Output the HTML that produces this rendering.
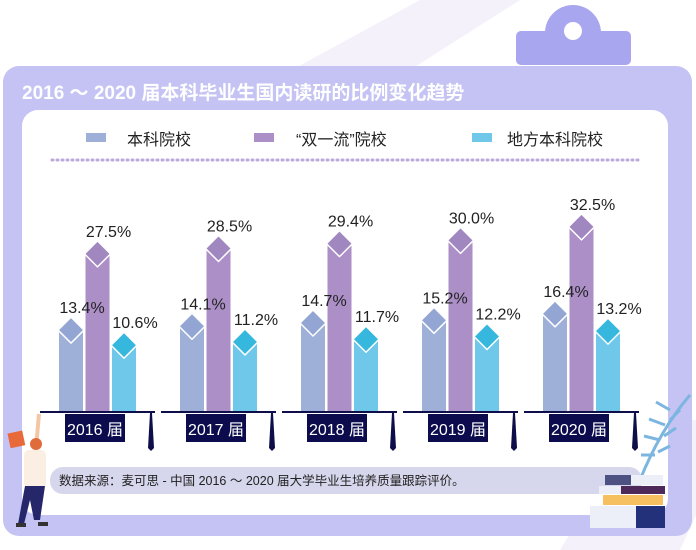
<!DOCTYPE html>
<html><head><meta charset="utf-8"><style>
body{margin:0;width:696px;height:550px;overflow:hidden;background:#fff;font-family:"Liberation Sans","Noto Sans CJK SC",sans-serif;}
#c{position:absolute;left:0;top:0}
</style></head><body>
<svg id="c" width="696" height="550" xmlns="http://www.w3.org/2000/svg">
<polygon points="200,120 420,0 520,0 300,140" fill="#f4f1fb"/>
<polygon points="740,420 680,550 560,550 640,420" fill="#f4f1fb"/>
<g>
<circle cx="573" cy="33" r="28" fill="#a8a6ee"/>
<rect x="516" y="31" width="115" height="34" rx="5" fill="#a8a6ee"/>
<circle cx="573" cy="31" r="9" fill="#fff"/>
</g>
<rect x="3" y="66" width="689" height="470" rx="16" fill="#c4c3f3"/>
<text x="22" y="99" font-size="19" font-weight="bold" fill="#fff">2016 ～ 2020 届本科毕业生国内读研的比例变化趋势</text>
<rect x="22" y="110" width="646" height="405" rx="16" fill="#fff"/>
<g>
<rect x="86" y="133" width="20" height="9" fill="#9fb0d8"/>
<text x="127" y="145" font-size="16" fill="#222">本科院校</text>
<rect x="254" y="133" width="20" height="9" fill="#ab8fc6"/>
<text x="296" y="145" font-size="16" fill="#222">“双一流”院校</text>
<rect x="472" y="133" width="20" height="9" fill="#6fc7ea"/>
<text x="507" y="145" font-size="16" fill="#222">地方本科院校</text>
</g>
<line x1="52" y1="160" x2="640" y2="160" stroke="#b9a9dc" stroke-width="3" stroke-dasharray="1 4" stroke-linecap="round"/>
<g id="bars"></g>
<g id="labels"></g>
<rect x="50" y="467" width="592" height="27" rx="13" fill="#d6d6ec"/>
<text x="59" y="485" font-size="12.5" fill="#222">数据来源：麦可思 - 中国 2016 ～ 2020 届大学毕业生培养质量跟踪评价。</text>
<g>
<rect x="9" y="432" width="15" height="15" fill="#e8693a" transform="rotate(-12 16 440)"/>
<line x1="39" y1="414" x2="36" y2="448" stroke="#f3c7a5" stroke-width="4"/>
<circle cx="36" cy="444" r="6" fill="#e06b3b"/>
<rect x="24" y="450" width="22" height="38" rx="5" fill="#fbeee3"/>
<polygon points="25,486 45,486 40,520 34,520 30,500 24,524 18,524" fill="#25276a"/>
<rect x="16" y="523" width="10" height="4" fill="#333"/><rect x="38" y="522" width="10" height="4" fill="#333"/>
</g>
<g stroke="#7cb6e0" stroke-width="3" fill="none">
<path d="M690 395 Q660 430 640 480"/><path d="M670 410 l-14 -8 M665 425 l-16 -6 M660 440 l-16 -4 M655 455 l-14 0 M670 420 l10 -10 M664 436 l12 -8 M658 452 l12 -6"/>
</g>
<g>
<rect x="605" y="475" width="58" height="10" fill="#eceef8"/><rect x="605" y="475" width="26" height="10" fill="#4d5282"/>
<rect x="599" y="486" width="66" height="8" fill="#4d2a5a"/><rect x="599" y="486" width="22" height="8" fill="#eceef8"/>
<rect x="603" y="495" width="60" height="10" fill="#f6c060"/>
<rect x="590" y="506" width="75" height="22" fill="#eceef8"/><rect x="636" y="506" width="29" height="22" fill="#22317a"/>
</g>
<script>
var years=["2016 届","2017 届","2018 届","2019 届","2020 届"];
var undergrad=[13.4,14.1,14.7,15.2,16.4];
var doubleFirst=[27.5,28.5,29.4,30.0,32.5];
var local=[10.6,11.2,11.7,12.2,13.2];
var base=411;
function y(v){return base-(8.6+5.4*v);}
function gx(i){return 59+i*121;}
var series=[{d:undergrad,c:"#9fb0d8",dc:"#93a5d2",n:"undergrad"},{d:doubleFirst,c:"#ab8fc6",dc:"#a187c0",n:"double-first"},{d:local,c:"#6fc7ea",dc:"#36b7dd",n:"local"}];
var g=document.getElementById("bars");var gl=document.getElementById("labels");var NS="http://www.w3.org/2000/svg";
function mk(t,a,p){var e=document.createElementNS(NS,t);for(var k in a)e.setAttribute(k,a[k]);(p||g).appendChild(e);return e;}
years.forEach(function(yr,i){
 var x0=gx(i);
 series.forEach(function(s,j){
  var bx=x0+j*26.5,v=s.d[i],t=y(v),cx=bx+12;
  var r=mk("rect",{x:bx,y:t,width:24,height:base-t,fill:s.c});
  
  
  var d=mk("polygon",{points:(cx)+","+(t-13)+" "+(cx+13)+","+t+" "+cx+","+(t+13)+" "+(cx-13)+","+t,fill:s.dc,stroke:"#fff","stroke-width":1.5,"stroke-linejoin":"round"});
  
  
  var tx=mk("text",{x:cx+11,y:t-17,"font-size":16,fill:"#222","text-anchor":"middle"},gl);
  tx.textContent=v.toFixed(1)+"%";
  
  
 });
 var ln=mk("rect",{x:x0-19,y:base,width:115,height:2,fill:"#0e0e4a"});
 
 
 var bx=mk("rect",{x:x0+6,y:base+3,width:60,height:28,fill:"#0b0b4d"});
 
 
 var lt=mk("text",{x:x0+36,y:base+24,"font-size":16,fill:"#fff","text-anchor":"middle"});
 lt.textContent=yr;
 
 
 var sp=mk("polygon",{points:(x0+91)+","+(base+2)+" "+(x0+93)+","+(base+2)+" "+(x0+95)+","+(base+37)+" "+(x0+92)+","+(base+40)+" "+(x0+89)+","+(base+37),fill:"#0e0e4a"});
 
 
});
</script>
</svg>
</body></html>
